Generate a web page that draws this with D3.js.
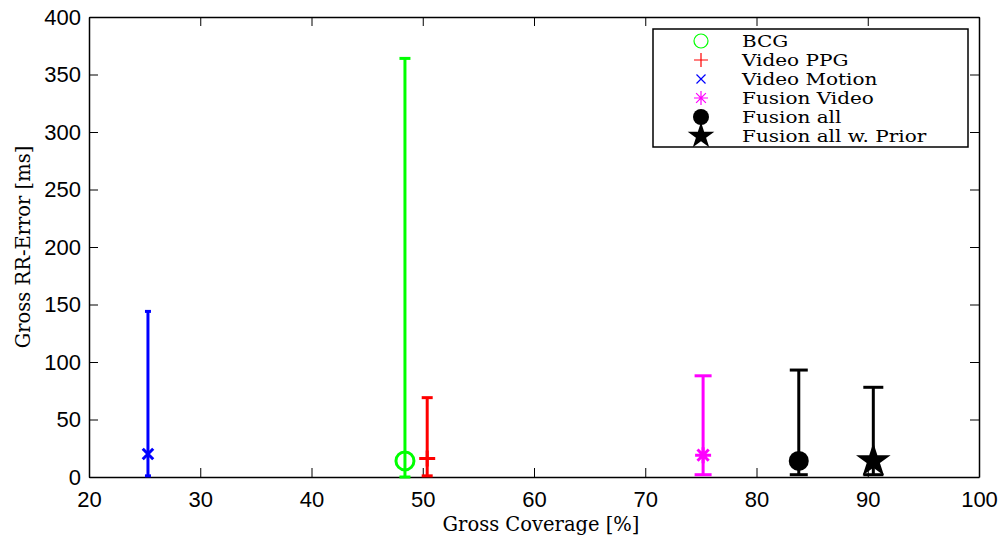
<!DOCTYPE html>
<html>
<head>
<meta charset="utf-8">
<script src="https://cdn.jsdelivr.net/npm/d3@7"></script>
<style>
  body { margin: 0; background: #fff; }
  svg { display: block; }
</style>
</head>
<body>
<div id="chart"></div>
<script>
// data
const names = ["BCG", "Video PPG", "Video Motion", "Fusion Video", "Fusion all", "Fusion all w. Prior"];
const coverage = [48.4, 50.4, 25.3, 75.2, 83.8, 90.5];
const rrError = [14, 16, 20, 19, 14, 14];
const errLow = [0, 1, 1, 2, 2, 2];
const errHigh = [364, 69, 144, 88, 93, 78];
const xTicks = [20, 30, 40, 50, 60, 70, 80, 90, 100];
const yTicks = [0, 50, 100, 150, 200, 250, 300, 350, 400];

// styles
const colors = ["#00ff00", "#ff0000", "#0000ff", "#ff00ff", "#000000", "#000000"];
const markers = ["circle", "plus", "cross", "asterisk", "dot", "star"];
const capPx = [11, 11, 6, 17, 18, 20];

const W = 1003, H = 541;
const margin = { left: 89, right: 24, top: 17, bottom: 64 };
const iw = W - margin.left - margin.right;
const ih = H - margin.top - margin.bottom;

const svg = d3.select("#chart").append("svg")
  .attr("width", W).attr("height", H);

const g = svg.append("g").attr("transform", `translate(${margin.left},${margin.top})`);

const x = d3.scaleLinear().domain([20, 100]).range([0, iw]);
const y = d3.scaleLinear().domain([0, 400]).range([ih, 0]);

const sans = "'Liberation Sans', Arial, sans-serif";
const serif = "'DejaVu Serif', serif";

// axes, MATLAB style: ticks inside, box on
const tickLen = 9;
g.append("g").attr("transform", `translate(0,${ih})`)
  .call(d3.axisBottom(x).tickValues(xTicks).tickSizeInner(-tickLen).tickSizeOuter(0).tickPadding(14))
  .call(a => a.selectAll("text").attr("font-family", sans).attr("font-size", 22).attr("fill", "#000"));
g.append("g")
  .call(d3.axisLeft(y).tickValues(yTicks).tickSizeInner(-tickLen).tickSizeOuter(0).tickPadding(8))
  .call(a => a.selectAll("text").attr("font-family", sans).attr("font-size", 22).attr("fill", "#000"));
g.append("g")
  .call(d3.axisTop(x).tickValues(xTicks).tickSizeInner(-tickLen).tickSizeOuter(0).tickFormat(""));
g.append("g").attr("transform", `translate(${iw},0)`)
  .call(d3.axisRight(y).tickValues(yTicks).tickSizeInner(-tickLen).tickSizeOuter(0).tickFormat(""));
g.selectAll(".domain").attr("stroke", "#000").attr("stroke-width", 1.5);
g.selectAll(".tick line").attr("stroke", "#000").attr("stroke-width", 1);

// axis labels
svg.append("text")
  .attr("x", 541).attr("y", 531)
  .attr("text-anchor", "middle")
  .attr("font-family", serif).attr("font-size", 19.5)
  .text("Gross Coverage [%]");
svg.append("text")
  .attr("transform", `translate(30,${margin.top + ih / 2}) rotate(-90)`)
  .attr("text-anchor", "middle")
  .attr("font-family", serif).attr("font-size", 19.5)
  .text("Gross RR-Error [ms]");

function drawMarker(sel, type, color, s, lw) {
  if (type === "circle") {
    sel.append("circle").attr("r", s).attr("fill", "none").attr("stroke", color).attr("stroke-width", lw);
  } else if (type === "dot") {
    sel.append("circle").attr("r", s).attr("fill", color);
  } else if (type === "plus") {
    sel.append("path").attr("d", `M${-s},0H${s}M0,${-s}V${s}`).attr("stroke", color).attr("stroke-width", lw);
  } else if (type === "cross") {
    const c = s * 0.75;
    sel.append("path").attr("d", `M${-c},${-c}L${c},${c}M${-c},${c}L${c},${-c}`).attr("stroke", color).attr("stroke-width", lw);
  } else if (type === "asterisk") {
    const c = s * 0.7;
    sel.append("path").attr("d", `M${-s},0H${s}M0,${-s}V${s}M${-c},${-c}L${c},${c}M${-c},${c}L${c},${-c}`)
      .attr("stroke", color).attr("stroke-width", lw);
  } else if (type === "star") {
    sel.append("path").attr("d", d3.symbol(d3.symbolStar, s * s * 2.2)()).attr("fill", color);
  }
}

// error bars + markers
const markerSize = [9, 8, 7, 8, 10, 13];
names.forEach((n, i) => {
  const cx = x(coverage[i]);
  const bar = g.append("g").attr("stroke", colors[i]).attr("stroke-width", 3).attr("fill", "none");
  bar.append("line").attr("x1", cx).attr("x2", cx).attr("y1", y(errLow[i])).attr("y2", y(errHigh[i]));
  [errLow[i], errHigh[i]].forEach(v => {
    bar.append("line").attr("x1", cx - capPx[i] / 2).attr("x2", cx + capPx[i] / 2)
      .attr("y1", y(v)).attr("y2", y(v));
  });
  const m = g.append("g").attr("transform", `translate(${cx},${y(rrError[i])})`);
  drawMarker(m, markers[i], colors[i], markerSize[i], 3);
});

// legend
const lg = svg.append("g").attr("transform", "translate(653,29)");
lg.append("rect").attr("width", 315).attr("height", 118)
  .attr("fill", "#fff").attr("stroke", "#000").attr("stroke-width", 1.5);
const legendSize = [7, 7, 6, 7, 8, 10];
names.forEach((n, i) => {
  const row = lg.append("g").attr("transform", `translate(48,${12 + i * 19})`);
  drawMarker(row, markers[i], colors[i], legendSize[i], 1.2);
  // the LaTeX font in the original is wider than any installed serif
  row.append("text").attr("transform", "translate(41,6) scale(1.25,1)")
    .attr("font-family", serif).attr("font-size", 16).attr("fill", "#000")
    .text(n);
});
</script>
</body>
</html>
